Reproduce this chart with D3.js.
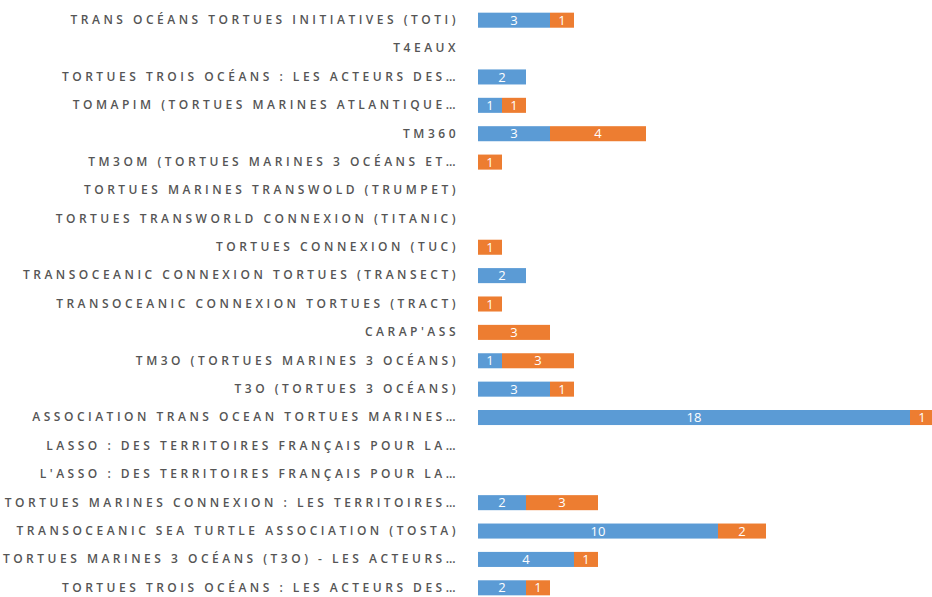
<!DOCTYPE html>
<meta charset="utf-8">
<style>
body { margin: 0; background: #fff; }
.cat { font: 600 12px "Open Sans", sans-serif; fill: #555; letter-spacing: 3.5px; }
.val { font: 13px "Open Sans", sans-serif; fill: #fff; }
</style>
<body>
<script src="https://cdn.jsdelivr.net/npm/d3@7"></script>
<script>
// categories, top to bottom
var categories = [
  "TRANS OCÉANS TORTUES INITIATIVES (TOTI)",
  "T4EAUX",
  "TORTUES TROIS OCÉANS : LES ACTEURS DES…",
  "TOMAPIM (TORTUES MARINES ATLANTIQUE…",
  "TM360",
  "TM3OM (TORTUES MARINES 3 OCÉANS ET…",
  "TORTUES MARINES TRANSWOLD (TRUMPET)",
  "TORTUES TRANSWORLD CONNEXION (TITANIC)",
  "TORTUES CONNEXION (TUC)",
  "TRANSOCEANIC CONNEXION TORTUES (TRANSECT)",
  "TRANSOCEANIC CONNEXION TORTUES (TRACT)",
  "CARAP'ASS",
  "TM3O (TORTUES MARINES 3 OCÉANS)",
  "T3O (TORTUES 3 OCÉANS)",
  "ASSOCIATION TRANS OCEAN TORTUES MARINES…",
  "LASSO : DES TERRITOIRES FRANÇAIS POUR LA…",
  "L'ASSO : DES TERRITOIRES FRANÇAIS POUR LA…",
  "TORTUES MARINES CONNEXION : LES TERRITOIRES…",
  "TRANSOCEANIC SEA TURTLE ASSOCIATION (TOSTA)",
  "TORTUES MARINES 3 OCÉANS (T3O) - LES ACTEURS…",
  "TORTUES TROIS OCÉANS : LES ACTEURS DES…"
];
var blueValues   = [3, 0, 2, 1, 3, 0, 0, 0, 0, 2, 0, 0, 1, 3, 18, 0, 0, 2, 10, 4, 2];
var orangeValues = [1, 0, 0, 1, 4, 1, 0, 0, 1, 0, 1, 3, 3, 1, 1, 0, 0, 3, 2, 1, 1];
var seriesKeys = ["blue", "orange"];
var colors = {blue: "#5b9bd5", orange: "#ed7d31"};

var width = 932, height = 597;

var rows = categories.map(function(c, i) {
  return {key: i, name: c, blue: blueValues[i], orange: orangeValues[i]};
});

var svg = d3.select("body").append("svg")
    .attr("width", width)
    .attr("height", height);

var y = d3.scaleBand()
    .domain(rows.map(function(d) { return d.key; }))
    .range([6, 602])
    .paddingInner(0.47)
    .paddingOuter(0.235);

var x = d3.scaleLinear()
    .domain([0, 19])
    .range([478, 934]);

var stack = d3.stack().keys(seriesKeys);
var layers = stack(rows);

var g = svg.selectAll(".layer")
    .data(layers)
  .enter().append("g")
    .attr("class", "layer")
    .attr("fill", function(d) { return colors[d.key]; });

g.selectAll("rect")
    .data(function(d) { return d; })
  .enter().append("rect")
    .attr("x", function(d) { return x(d[0]); })
    .attr("y", function(d) { return y(d.data.key); })
    .attr("width", function(d) { return x(d[1]) - x(d[0]); })
    .attr("height", y.bandwidth());

// value labels inside the segments
layers.forEach(function(layer) {
  svg.append("g").selectAll("text")
      .data(layer.filter(function(d) { return d[1] - d[0] > 0; }))
    .enter().append("text")
      .attr("class", "val")
      .attr("x", function(d) { return (x(d[0]) + x(d[1])) / 2; })
      .attr("y", function(d) { return y(d.data.key) + y.bandwidth() / 2; })
      .attr("dy", "0.36em")
      .attr("text-anchor", "middle")
      .text(function(d) { return d[1] - d[0]; });
});

// category axis
var axis = svg.append("g")
    .attr("transform", "translate(459,0)")
    .call(d3.axisLeft(y).tickSize(0).tickPadding(0)
      .tickFormat(function(i) { return categories[i]; }));
axis.select(".domain").remove();
axis.selectAll("text")
    .attr("class", "cat")
    .attr("font-size", null)
    .attr("font-family", null);
</script>
</body>
